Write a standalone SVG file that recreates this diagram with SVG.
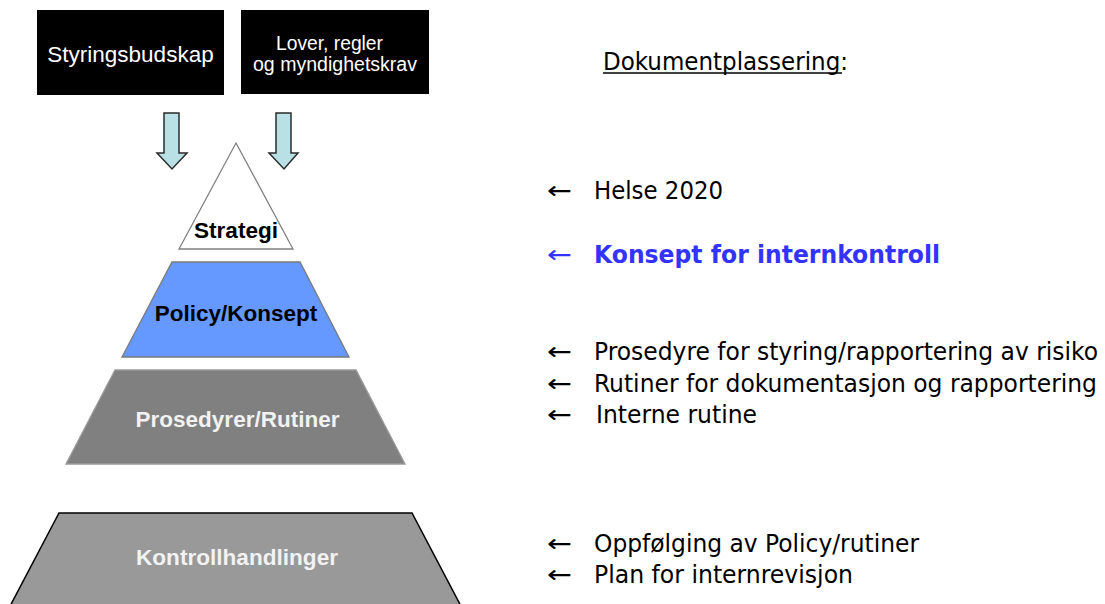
<svg xmlns="http://www.w3.org/2000/svg" width="1105" height="604" viewBox="0 0 1105 604">
  <style>
    .box { fill: #000000; }
    .boxtxt { font-family: "Liberation Sans", Arial, sans-serif; fill: #ffffff; }
    .lvl { font-family: "Liberation Sans", Arial, sans-serif; font-weight: bold; font-size: 22.5px; text-anchor: middle; }
    .doc { font-family: "DejaVu Sans Condensed", "DejaVu Sans", sans-serif; font-size: 24.5px; fill: #000000; }
    .doc-hl { fill: #3333ff; font-weight: bold; }
    .flow { fill: #b9e0e5; stroke: #2b2b2b; stroke-width: 1.5; stroke-linejoin: miter; }
  </style>

  <rect width="1105" height="604" fill="#ffffff"/>

  <!-- input sources -->
  <g id="styringsbudskap">
    <rect class="box" x="37" y="10" width="187" height="85"/>
    <text class="boxtxt" x="130.5" y="62" font-size="22.5" text-anchor="middle">Styringsbudskap</text>
  </g>
  <g id="lover">
    <rect class="box" x="241" y="10" width="188" height="84"/>
    <text class="boxtxt" font-size="19.5">
      <tspan x="276" y="50" textLength="107" lengthAdjust="spacingAndGlyphs">Lover, regler</tspan>
      <tspan x="253" y="71" textLength="164" lengthAdjust="spacingAndGlyphs">og myndighetskrav</tspan>
    </text>
  </g>

  <!-- down arrows feeding the pyramid -->
  <g id="connectors">
    <polygon class="flow" points="164,113 179,113 179,153 187,153 172,169 157,153 164,153"/>
    <polygon class="flow" points="276,113 291,113 291,153 298,153 284,169 269,153 276,153"/>
  </g>

  <!-- pyramid levels -->
  <g id="strategi">
    <polygon points="236,143 293,249 179,249" fill="#ffffff" stroke="#808080" stroke-width="1.3"/>
    <text class="lvl" x="236" y="238" fill="#000000" font-size="20.5" textLength="84" lengthAdjust="spacingAndGlyphs">Strategi</text>
  </g>
  <g id="policy">
    <polygon points="172,262 300,262 349,357 122,357" fill="#6699ff" stroke="#7a7a7a" stroke-width="1.3"/>
    <text class="lvl" x="236" y="321" fill="#000000">Policy/Konsept</text>
  </g>
  <g id="prosedyrer">
    <polygon points="115,370 356,370 405,464 66,464" fill="#808080" stroke="#9a9a9a" stroke-width="1.3"/>
    <text class="lvl" x="237.5" y="427" fill="#f2f2f2">Prosedyrer/Rutiner</text>
  </g>
  <g id="kontroll">
    <polygon points="59,513 412,513 463,610 8,610" fill="#999999" stroke="#000000" stroke-width="1.5"/>
    <text class="lvl" x="237" y="565" fill="#f2f2f2" font-size="20.5" textLength="202" lengthAdjust="spacingAndGlyphs">Kontrollhandlinger</text>
  </g>

  <!-- document placement list -->
  <g id="dokumentplassering">
    <text class="doc" x="603" y="70" textLength="245" lengthAdjust="spacingAndGlyphs">Dokumentplassering:</text>
    <line x1="603" y1="73" x2="842" y2="73" stroke="#000000" stroke-width="1.6"/>

    <text class="doc" y="199"><tspan x="547" textLength="25" lengthAdjust="spacingAndGlyphs">←</tspan><tspan x="594" textLength="129" lengthAdjust="spacingAndGlyphs">Helse 2020</tspan></text>
    <text class="doc doc-hl" y="263"><tspan x="547" font-weight="normal" textLength="25" lengthAdjust="spacingAndGlyphs">←</tspan><tspan x="594" textLength="346" lengthAdjust="spacingAndGlyphs">Konsept for internkontroll</tspan></text>

    <text class="doc" y="360"><tspan x="547" textLength="25" lengthAdjust="spacingAndGlyphs">←</tspan><tspan x="594" textLength="504" lengthAdjust="spacingAndGlyphs">Prosedyre for styring/rapportering av risiko</tspan></text>
    <text class="doc" y="392"><tspan x="547" textLength="25" lengthAdjust="spacingAndGlyphs">←</tspan><tspan x="594" textLength="503" lengthAdjust="spacingAndGlyphs">Rutiner for dokumentasjon og rapportering</tspan></text>
    <text class="doc" y="423"><tspan x="547" textLength="25" lengthAdjust="spacingAndGlyphs">←</tspan><tspan x="596" textLength="161" lengthAdjust="spacingAndGlyphs">Interne rutine</tspan></text>

    <text class="doc" y="552"><tspan x="547" textLength="25" lengthAdjust="spacingAndGlyphs">←</tspan><tspan x="594" textLength="325" lengthAdjust="spacingAndGlyphs">Oppfølging av Policy/rutiner</tspan></text>
    <text class="doc" y="583"><tspan x="547" textLength="25" lengthAdjust="spacingAndGlyphs">←</tspan><tspan x="594" textLength="259" lengthAdjust="spacingAndGlyphs">Plan for internrevisjon</tspan></text>
  </g>
</svg>
